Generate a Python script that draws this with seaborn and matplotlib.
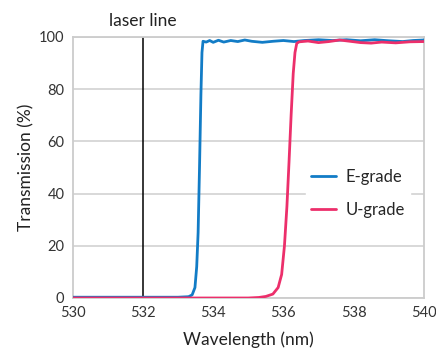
import pandas as pd
import seaborn as sns
import matplotlib.pyplot as plt
import matplotlib.transforms as mtransforms

# E-grade transmission curve
e_wl = [530.0, 531.0, 532.0, 533.0, 533.3, 533.4, 533.48, 533.53, 533.57, 533.61,
        533.65, 533.68, 533.71, 533.8, 533.9, 534.0, 534.15, 534.3, 534.5, 534.7,
        534.9, 535.1, 535.4, 535.7, 536.0, 536.3, 536.6, 537.0, 537.4, 537.8,
        538.2, 538.6, 539.0, 539.4, 539.7, 540.0]
e_t = [0.3, 0.3, 0.3, 0.3, 0.5, 1.2, 4, 12, 25, 50,
       78, 94, 98.3, 98.0, 98.6, 97.9, 98.7, 98.0, 98.6, 98.2,
       98.8, 98.3, 97.9, 98.3, 98.6, 98.2, 98.6, 98.9, 98.6, 98.9,
       98.5, 98.9, 98.5, 98.2, 98.6, 98.8]

# U-grade transmission curve
u_wl = [530.0, 532.0, 534.0, 535.0, 535.3, 535.5, 535.7, 535.85, 535.95, 536.03,
        536.1, 536.16, 536.22, 536.28, 536.33, 536.38, 536.45, 536.7, 537.0, 537.3,
        537.6, 537.9, 538.2, 538.5, 538.8, 539.2, 539.6, 540.0]
u_t = [0.0, 0.0, 0.0, 0.0, 0.2, 0.6, 1.5, 4, 9, 20,
       35, 52, 70, 86, 94, 97.5, 98.1, 98.4, 97.8, 98.2,
       98.8, 98.3, 97.8, 97.6, 98.0, 97.7, 98.1, 98.2]

laser_wl = 532
x_ticks = [530, 532, 534, 536, 538, 540]
y_ticks = [0, 20, 40, 60, 80, 100]

df = pd.concat([
    pd.DataFrame({'wl': e_wl, 'T': e_t, 'grade': 'E-grade'}),
    pd.DataFrame({'wl': u_wl, 'T': u_t, 'grade': 'U-grade'}),
])

sns.set_style('white')
plt.rcParams['font.family'] = ['Lato', 'DejaVu Sans']

fig = plt.figure(figsize=(4.36, 3.51), dpi=100)
ax = fig.add_axes([0.167, 0.151, 0.805, 0.744])

ax.axvline(laser_wl, color='black', lw=1.1, zorder=1)
sns.lineplot(data=df, x='wl', y='T', hue='grade',
             palette={'E-grade': '#127cc6', 'U-grade': '#ec2f6b'},
             lw=2.0, ax=ax, zorder=3)

ax.set_xlim(530, 540)
ax.set_ylim(0, 100)
ax.set_xticks(x_ticks)
ax.set_yticks(y_ticks)
ax.grid(axis='y', color='#d2d2d2', lw=1.2, zorder=0)
for s in ax.spines.values():
    s.set_color('#cccccc')
    s.set_linewidth(1.3)
ax.tick_params(axis='both', length=0, labelsize=10.5, colors='#333333', pad=6)
ax.set_xlabel('Wavelength (nm)', fontsize=12.5, color='#222222', labelpad=8)
ax.set_ylabel('Transmission (%)', fontsize=12.5, color='#222222', labelpad=3)

trans = mtransforms.blended_transform_factory(ax.transData, ax.transAxes)
ax.text(laser_wl, 1.03, 'laser line', transform=trans, ha='center', va='bottom',
        fontsize=12.5, color='#222222')

leg = ax.legend(loc='center left', bbox_to_anchor=(0.64, 0.40), frameon=True,
                facecolor='white', edgecolor='white', framealpha=1,
                fontsize=12, handlelength=1.5, handletextpad=0.6,
                labelspacing=1.0, borderpad=0.3)
for line in leg.get_lines():
    line.set_linewidth(2.0)

fig.savefig('out.png', dpi=100)
